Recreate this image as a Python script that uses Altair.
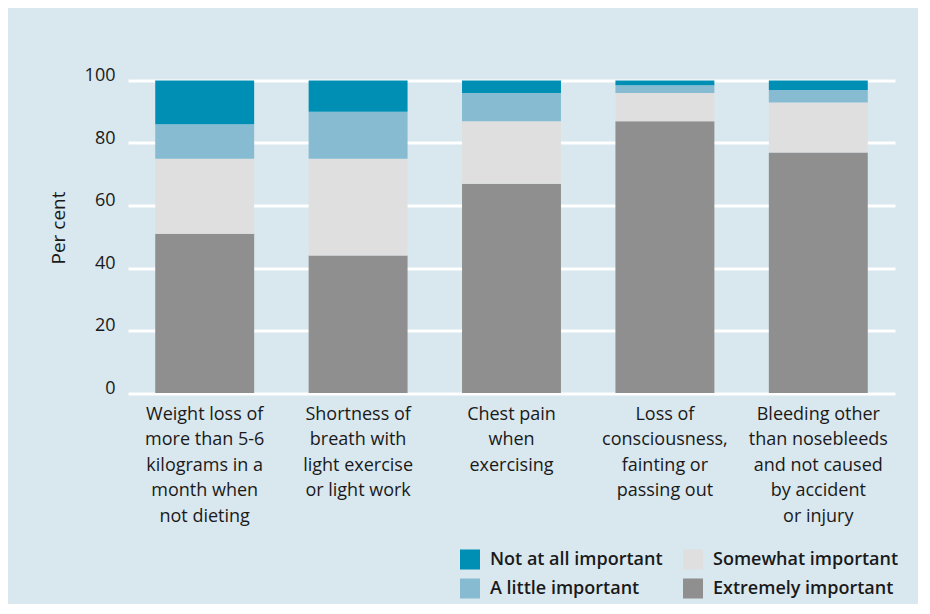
import altair as alt
import pandas as pd

categories = [
    "Weight loss of\nmore than 5-6\nkilograms in a\nmonth when\nnot dieting",
    "Shortness of\nbreath with\nlight exercise\nor light work",
    "Chest pain\nwhen\nexercising",
    "Loss of\nconsciousness,\nfainting or\npassing out",
    "Bleeding other\nthan nosebleeds\nand not caused\nby accident\nor injury",
]
extremely = [51, 44, 67, 87, 77]
somewhat = [24, 31, 20, 9, 16]
a_little = [11, 15, 9, 2.5, 4]
not_at_all = [14, 10, 4, 1.5, 3]

series = [
    ("Extremely important", extremely),
    ("Somewhat important", somewhat),
    ("A little important", a_little),
    ("Not at all important", not_at_all),
]
legend_order = ["Not at all important", "A little important",
                "Somewhat important", "Extremely important"]
colors = ["#008fb4", "#86bbd1", "#dfdfdf", "#8f8f8f"]

rows = []
for rank, (name, vals) in enumerate(series):
    for c, v in zip(categories, vals):
        rows.append({"cat": c, "resp": name, "val": v, "rank": rank})
df = pd.DataFrame(rows)

FONT = "Open Sans"
TXT = "#1a1a1a"

chart = alt.Chart(df).mark_bar().encode(
    x=alt.X("cat:N", sort=categories,
            scale=alt.Scale(paddingInner=0.355, paddingOuter=0.1775),
            axis=alt.Axis(title=None, labelAngle=0, domain=False, ticks=False,
                          labelExpr="split(datum.label, '\\n')",
                          labelFontSize=18, labelLineHeight=25.5,
                          labelPadding=12, labelColor=TXT, labelFont=FONT,
                          labelBaseline="top", labelLimit=0)),
    y=alt.Y("val:Q", stack="zero", scale=alt.Scale(domain=[0, 100], nice=False),
            axis=alt.Axis(title="Per cent", values=[0, 20, 40, 60, 80, 100],
                          domain=False, ticks=False, grid=True,
                          gridColor="white", gridWidth=3,
                          labelFontSize=18, labelColor=TXT, labelFont=FONT,
                          labelPadding=13, labelBaseline="alphabetic",
                          titleFontSize=19, titleFont=FONT, titleColor=TXT,
                          titleFontWeight="normal", titleAngle=-90,
                          titleX=-64, titleY=147, titleAlign="center",
                          titleBaseline="alphabetic")),
    color=alt.Color("resp:N",
                    scale=alt.Scale(domain=legend_order, range=colors),
                    legend=alt.Legend(title=None, orient="none", columns=2,
                                      legendX=332, legendY=469,
                                      symbolType="square", symbolSize=400,
                                      symbolStrokeWidth=0, symbolOpacity=1,
                                      labelFontSize=18, labelFont=FONT,
                                      labelColor=TXT, labelFontWeight=600,
                                      labelLimit=0,
                                      labelOffset=10, rowPadding=9,
                                      columnPadding=20, padding=0)),
    order=alt.Order("rank:Q", sort="ascending"),
).properties(
    width=767, height=312.5,
    autosize=alt.AutoSizeParams(type="none"),
    padding={"left": 120, "top": 72.5, "right": 23, "bottom": 211},
    background="#d9e7ef",
).configure_view(stroke=None, fill="#d9e7ef")

chart.save("out.html", embed_options={"renderer": "svg", "actions": False})
